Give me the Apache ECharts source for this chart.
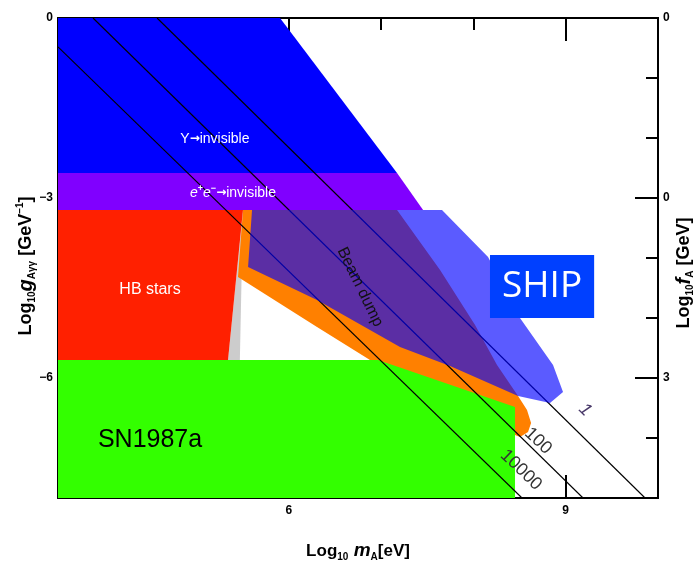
<!DOCTYPE html>
<html>
<head>
<meta charset="utf-8">
<script src="https://cdn.jsdelivr.net/npm/echarts@6/dist/echarts.min.js"></script>
<style>
html,body{margin:0;padding:0;background:#fff;}
#chart{width:693px;height:563px;}
</style>
</head>
<body>
<div id="chart"></div>
<script>
// ---- axis ticks ----
const xTicksMajor = [6, 9];
const xTicksMinor = [4, 5, 7, 8];
const yTicksMajor = [0, -3, -6];
const yTicksMinor = [-1, -2, -4, -5, -7];
const rightTickLabels = {'0': '0', '-3': '0', '-6': '3'};

// ---- excluded regions (log10 mA [eV], log10 g [GeV^-1]) ----
const yInvisible = [[3.5,0],[5.905,0],[7.173,-2.583],[3.5,-2.583]];
const eeInvisible = [[3.5,-2.583],[7.173,-2.583],[7.455,-3.2],[3.5,-3.2]];
const hbStars = [[3.5,-3.2],[5.504,-3.2],[5.342,-5.7],[3.5,-5.7]];
const hbEdge = [[5.504,-3.2],[5.47,-5.7],[5.342,-5.7]];
const beamDump = [[5.504,-3.2],[7.173,-3.2],[7.639,-4.2],[8.018,-5.117],[8.256,-5.783],[8.484,-6.3],
  [8.581,-6.533],[8.625,-6.75],[8.592,-6.9],[8.505,-6.983],[8.451,-6.95],[7.75,-6.3],[6.88,-5.7],
  [6.306,-5.15],[5.45,-4.317]];
const sn1987a = [[3.5,-5.7],[6.967,-5.7],[8.451,-6.483],[8.451,-8],[3.5,-8]];
const ship = [[5.602,-3.2],[7.66,-3.2],[8.159,-3.983],[8.505,-5.0],[8.863,-5.783],[8.971,-6.233],
  [8.83,-6.417],[8.484,-6.3],[7.747,-5.8],[7.205,-5.483],[6.306,-4.7],[5.559,-4.15]];

// ---- lifetime lines ----
const lifetime1 = [[4.573,0],[9.86,-8]];
const lifetime100 = [[3.879,0],[9.188,-8]];
const lifetime10000 = [[3.5,-0.483],[8.527,-8]];

// ---- labels ----
const regionLabels = [
  ['Y→invisible', 5.20, -2.02],
  ['e⁺e⁻→invisible', 5.396, -2.917],
  ['HB stars', 4.497, -4.533],
  ['SN1987a', 4.497, -7.033],
  ['Beam dump', 6.772, -4.483],
  ['SHIP', 8.744, -4.475]
];
const lineLabels = [['1', 9.21, -6.533], ['100', 8.70, -7.05], ['10000', 8.516, -7.533]];

const FONT = '"Liberation Sans", Arial, sans-serif';
const ARROW = '"DejaVu Sans", sans-serif';

function polygonSeries(name, pts, color, z) {
  return {
    type: 'custom', name: name, z: z, silent: true,
    data: [0],
    renderItem: function (params, api) {
      return {
        type: 'polygon',
        shape: { points: pts.map(p => api.coord(p)) },
        style: { fill: color, stroke: 'none' }
      };
    }
  };
}
function lineSeries(name, pts) {
  return {
    type: 'line', name: name, z: 5, silent: true, data: pts, symbol: 'none',
    lineStyle: { color: '#000', width: 1.1 }, animation: false
  };
}

const arrowRich = { fontFamily: ARROW, fontSize: 12, color: '#fff', fontWeight: 'bold', lineHeight: 18 };
const labelStyles = {
  'Y→invisible': { color: '#fff', fontSize: 14, formatter: 'Y{a|→}invisible', rich: { a: arrowRich } },
  'e⁺e⁻→invisible': { color: '#fff', fontSize: 14, lineHeight: 18, formatter: '{i|e}{p|+}{i|e}{p|−}{a|→}{n|invisible}',
    rich: {
      i: { fontStyle: 'italic', fontSize: 14, color: '#fff', fontFamily: FONT, lineHeight: 18 },
      p: { fontSize: 9, color: '#fff', fontFamily: FONT, fontWeight: 'bold', lineHeight: 11, verticalAlign: 'top' },
      n: { fontSize: 14, color: '#fff', fontFamily: FONT, lineHeight: 18 },
      a: arrowRich
    } },
  'HB stars': { color: '#fff', fontSize: 16 },
  'SN1987a': { color: '#000', fontSize: 25 },
  'Beam dump': { color: '#111', fontSize: 16, rotate: -64 },
  'SHIP': { color: '#fff', fontSize: 37, fontFamily: '"Open Sans", sans-serif', backgroundColor: '#0040ff', padding: [9, 12, 6, 12], lineHeight: 48 }
};

const regionLabelData = regionLabels.map(r => {
  const st = labelStyles[r[0]];
  return {
    value: [r[1], r[2]],
    label: Object.assign({ show: true, position: 'inside', formatter: r[0], fontFamily: FONT }, st)
  };
});
const lineLabelData = lineLabels.map(r => ({
  value: [r[1], r[2]],
  label: { show: true, position: 'inside', formatter: r[0], rotate: -44, fontSize: 18, fontFamily: FONT,
    color: r[0] === '1' ? '#4a3a6a' : '#333', fontStyle: r[0] === '1' ? 'italic' : 'normal' }
}));

function xAx(pos, ticks, len, labels, extra) {
  return Object.assign({
    type: 'value', position: pos, min: 3.5, max: 10,
    axisLine: { show: true, onZero: false, lineStyle: { color: '#000', width: 2 } },
    axisTick: { show: true, inside: true, length: len, customValues: ticks, lineStyle: { color: '#000', width: 2 } },
    axisLabel: labels ? { show: true, customValues: ticks, fontWeight: 'bold', fontSize: 12, color: '#000', fontFamily: FONT, margin: 7 } : { show: false },
    splitLine: { show: false }
  }, extra || {});
}
function yAx(pos, ticks, len, labels, formatter, extra) {
  return Object.assign({
    type: 'value', position: pos, min: -8, max: 0,
    axisLine: { show: true, onZero: false, lineStyle: { color: '#000', width: 2 } },
    axisTick: { show: true, inside: true, length: len, customValues: ticks, lineStyle: { color: '#000', width: 2 } },
    axisLabel: labels ? { show: true, customValues: ticks, fontWeight: 'bold', fontSize: 12, color: '#000', fontFamily: FONT, margin: 5, formatter: formatter } : { show: false },
    splitLine: { show: false }
  }, extra || {});
}

const nameRich = {
  b: { fontWeight: 'bold', fontSize: 17, fontFamily: FONT, color: '#000', lineHeight: 22 },
  s: { fontWeight: 'bold', fontSize: 10, fontFamily: FONT, color: '#000', lineHeight: 12, verticalAlign: 'bottom' },
  p: { fontWeight: 'bold', fontSize: 10, fontFamily: FONT, color: '#000', lineHeight: 12, verticalAlign: 'top' },
  g: { fontWeight: 'bold', fontStyle: 'italic', fontSize: 19, fontFamily: FONT, color: '#000', lineHeight: 22 }
};
const nameRichY = Object.assign({}, nameRich, {
  b: Object.assign({}, nameRich.b, { fontSize: 18 }),
  g: Object.assign({}, nameRich.g, { fontSize: 20 })
});

const option = {
  animation: false,
  backgroundColor: '#fff',
  grid: { left: 58, right: 35, top: 18, bottom: 65, containLabel: false, outerBoundsMode: 'none' },
  xAxis: [
    xAx('bottom', xTicksMinor, 12, false),
    xAx('bottom', xTicksMajor, 23, true, {
      name: '{b|Log}{s|10}{g| m}{s|A}{b|[eV]}', nameLocation: 'middle', nameGap: 42,
      nameTextStyle: { rich: nameRich }
    }),
    xAx('top', xTicksMinor, 12, false),
    xAx('top', xTicksMajor, 23, false)
  ],
  yAxis: [
    yAx('left', yTicksMinor, 12, false),
    yAx('left', yTicksMajor, 23, true, v => v === 0 ? '0' : '−' + Math.abs(v), {
      name: '{b|Log}{s|10}{g|g}{s|Aγγ}{b| [GeV}{p|−1}{b|]}', nameLocation: 'middle', nameGap: 21, nameRotate: 90,
      nameMoveOverlap: false,
      nameTextStyle: { rich: nameRichY, padding: [0, 16, 0, 0] }
    }),
    yAx('right', yTicksMinor, 12, false),
    yAx('right', yTicksMajor, 23, true, v => rightTickLabels[String(v)], {
      name: '{b|Log}{s|10}{g|f}{s|A}{b| [GeV]}', nameLocation: 'middle', nameGap: 15, nameRotate: 90,
      nameMoveOverlap: false,
      nameTextStyle: { rich: nameRichY, padding: [0, 30, 0, 0] }
    })
  ],
  series: [
    polygonSeries('Y→invisible', yInvisible, '#0000ff', 1),
    polygonSeries('e+e-→invisible', eeInvisible, '#8000ff', 1),
    polygonSeries('HB edge', hbEdge, '#cccccc', 1),
    polygonSeries('Beam dump', beamDump, '#ff8000', 1),
    polygonSeries('HB stars', hbStars, '#ff2000', 1),
    polygonSeries('SN1987a', sn1987a, '#33ff00', 1),
    lineSeries('1', lifetime1),
    lineSeries('100', lifetime100),
    lineSeries('10000', lifetime10000),
    polygonSeries('SHIP', ship, 'rgba(0,0,255,0.645)', 6),
    {
      type: 'scatter', name: 'regionLabels', z: 8, silent: true, symbolSize: 1,
      itemStyle: { color: 'rgba(0,0,0,0)', opacity: 1 }, data: regionLabelData
    },
    {
      type: 'scatter', name: 'lineLabels', z: 8, silent: true, symbolSize: 1,
      itemStyle: { color: 'rgba(0,0,0,0)', opacity: 1 }, data: lineLabelData
    }
  ]
};
const chart = echarts.init(document.getElementById('chart'), null, { renderer: 'canvas' });
chart.setOption(option);
</script>
</body>
</html>
